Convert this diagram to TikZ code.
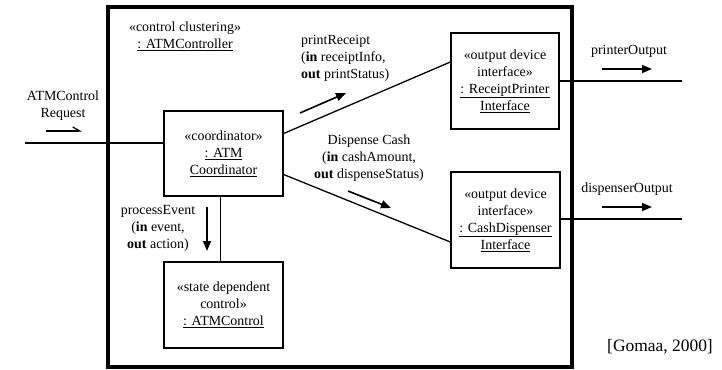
\documentclass[tikz,border=0pt]{standalone}
\usepackage{fontspec}
\setmainfont{Liberation Serif}
\usetikzlibrary{arrows.meta}
\begin{document}
\begin{tikzpicture}[x=1bp,y=-1bp,
  txt/.style={font=\fontsize{14}{17}\selectfont, align=center, inner sep=0pt},
  objbox/.style={draw, line width=1.3bp, txt, inner sep=0pt},
  cluster/.style={draw, line width=3.2bp},
  link/.style={line width=1.3bp},
  msg/.style={line width=1.6bp, -{Triangle[length=10bp,width=8bp]}},
  harp/.style={line width=1.2bp, -{Straight Barb[harpoon,length=7bp,width=8bp]}}]
\useasboundingbox (0,0) rectangle (722,369);

% enclosing composite object
\draw[cluster] (108,7) rectangle (572,367);
\node[txt] (clname) at (185,36) {«control clustering»\\\underline{: ATMController}};

% component objects
\node[objbox, minimum width=119bp, minimum height=85bp] (coord) at (223.5,153.5)
  {«coordinator»\\\underline{: ATM}\\\underline{Coordinator}};
\node[objbox, minimum width=119bp, minimum height=86bp] (ctrl) at (223.5,305)
  {«state dependent\\control»\\\underline{: ATMControl}};
\node[objbox, minimum width=108bp, minimum height=96bp] (rpi) at (505,81)
  {«output device\\interface»\\\underline{: ReceiptPrinter}\\\underline{Interface}};
\node[objbox, minimum width=109bp, minimum height=96bp] (cdi) at (505.5,220)
  {«output device\\interface»\\\underline{: CashDispenser}\\\underline{Interface}};

% external ends
\coordinate (inp) at (25,143);
\coordinate (outend) at (682,0);

% links
\draw[link] (inp) -- (inp -| coord.west);
\draw[link] ([yshift=20bp]coord.east) -- ([yshift=19bp]rpi.west);
\draw[link] ([yshift=-21bp]coord.east) -- ([yshift=-22bp]cdi.west);
\draw[link] ([xshift=-3bp]coord.south) -- ([xshift=-3bp]ctrl.north);
\draw[link] (rpi.east) -- (rpi.east -| outend);
\draw[link] ([yshift=1bp]cdi.east) -- ([yshift=1bp]cdi.east -| outend);

% message labels and arrows
\node[txt] (inlbl) at (63,106) {ATMControl\\Request};
\draw[harp] (46,131) -- (82,131);

\node[txt, align=left, anchor=west] (prlbl) at (301,58)
  {printReceipt\\(\textbf{in} receiptInfo,\\\textbf{out} printStatus)};
\draw[msg] (300,113) -- (346,93);

\node[txt] (dclbl) at (369,158)
  {Dispense Cash\\(\textbf{in} cashAmount,\\\textbf{out} dispenseStatus)};
\draw[msg] (348,191) -- (391,208);

\node[txt] (pelbl) at (158,228)
  {processEvent\\(\textbf{in} event,\\\textbf{out} action)};
\draw[msg] (207,207) -- (207,251);

\node[txt] (polbl) at (629,51) {printerOutput};
\draw[msg] (602,69) -- (652,69);

\node[txt] (dolbl) at (627,189) {dispenserOutput};
\draw[msg] (602,207) -- (652,207);

\node[inner sep=0pt, font=\fontsize{17.5}{20}\selectfont] (cite) at (660,347) {[Gomaa, 2000]};
\end{tikzpicture}
\end{document}
